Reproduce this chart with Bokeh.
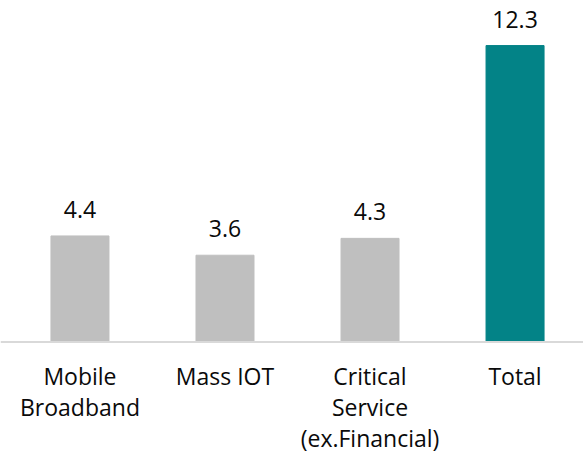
from bokeh.plotting import figure
from bokeh.models import ColumnDataSource, Range1d, Span, LabelSet
from bokeh.core.properties import value
from bokeh.embed import file_html
from bokeh.resources import INLINE

categories = ["Mobile\nBroadband", "Mass IOT", "Critical\nService\n(ex.Financial)", "Total"]
values = [4.4, 3.6, 4.3, 12.3]
value_labels = ["4.4", "3.6", "4.3", "12.3"]
bar_colors = ["#bfbfbf", "#bfbfbf", "#bfbfbf", "#038387"]

xs = list(range(len(categories)))
source = ColumnDataSource(dict(x=xs, top=values, color=bar_colors, vlab=value_labels))

# one entry per text line of each category label, so every line is centred
lx, ltxt, loff, lzero = [], [], [], []
for i, cat in enumerate(categories):
    for j, line in enumerate(cat.split("\n")):
        lx.append(i)
        ltxt.append(line)
        loff.append(-(43.5 + 31 * j))
        lzero.append(0)
cat_source = ColumnDataSource(dict(x=lx, y=lzero, text=ltxt, off=loff))

p = figure(width=583, height=455, output_backend="svg", toolbar_location=None,
           x_range=Range1d(-0.548, 3.472), y_range=Range1d(-4.71, 14.17),
           min_border=0, outline_line_color=None)
p.axis.visible = False
p.grid.visible = False
p.background_fill_color = "white"
p.border_fill_color = "white"

p.vbar(x="x", top="top", width=0.4, color="color", source=source)

p.add_layout(Span(location=0, dimension="width", line_color="#d9d9d9", line_width=2))

p.add_layout(LabelSet(x="x", y="top", text="vlab", source=source, y_offset=18,
                      text_align="center", text_baseline="alphabetic",
                      text_font=value("Open Sans"), text_font_size="23px",
                      text_color="#0a0a0a"))

p.add_layout(LabelSet(x="x", y="y", text="text", source=cat_source, y_offset="off",
                      text_align="center", text_baseline="alphabetic",
                      text_font=value("Open Sans"), text_font_size="23px",
                      text_color="#0a0a0a"))

open("out.html", "w").write(file_html(p, INLINE))
